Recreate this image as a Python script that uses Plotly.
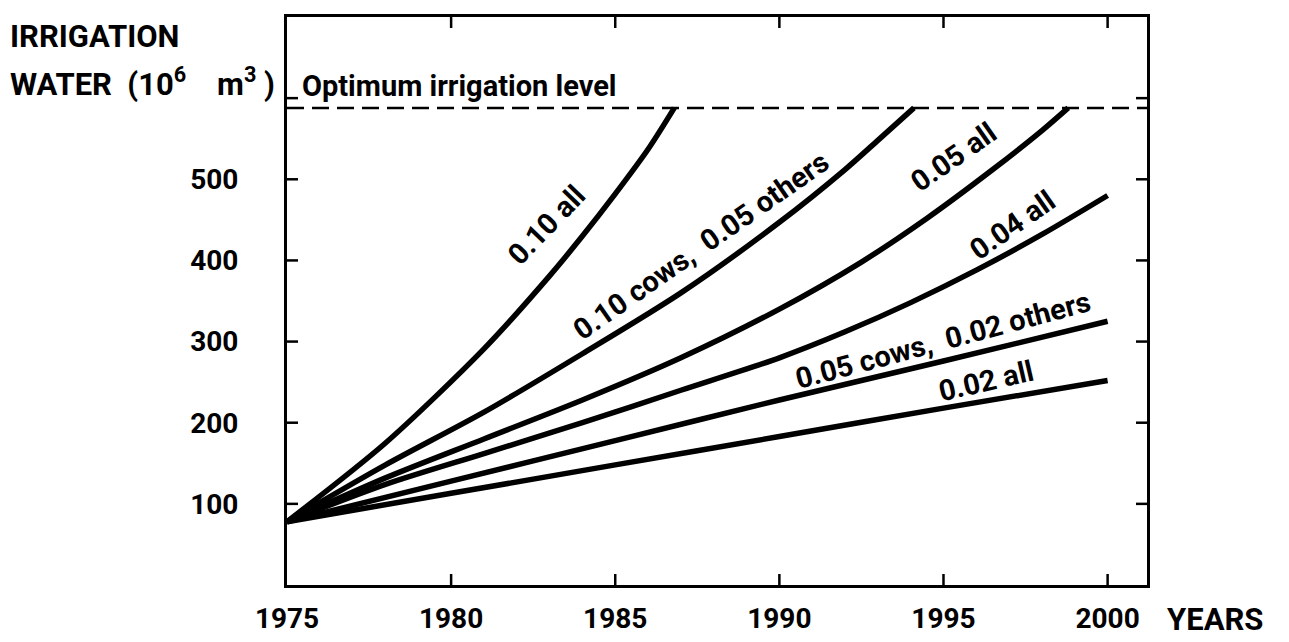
import plotly.graph_objects as go

# Axis ticks
year_ticks = [1975, 1980, 1985, 1990, 1995, 2000]
year_tick_text = ["1975", "1980", "1985", "1990", "1995", "2000"]
water_ticks = [100, 200, 300, 400, 500, 600]
water_tick_text = ["100", "200", "300", "400", "500", ""]

# Optimum irrigation level (10^6 m^3)
optimum_level = 588

# Irrigation water demand per growth scenario
years_010_all = [1975, 1978, 1981, 1983, 1984, 1985, 1986, 1986.8]
water_010_all = [78, 175, 291, 381, 430, 482, 537, 588]

years_010_cows = [1975, 1978, 1981, 1984, 1987, 1990, 1992, 1993, 1994.1]
water_010_cows = [78, 148, 213, 285, 360, 447, 512, 548, 588]

years_005_all = [1975, 1978, 1981, 1984, 1987, 1990, 1992.5, 1994.5, 1996.5, 1998, 1998.8]
water_005_all = [78, 132, 180, 228, 280, 340, 398, 452, 512, 560, 588]

years_004_all = [1975, 1978, 1981, 1984, 1987, 1990, 1992, 1994, 1996, 1998, 2000]
water_004_all = [78, 124, 162, 200, 240, 280, 312, 348, 388, 432, 480]

years_005_cows = [1975, 1980, 1985, 1990, 1995, 2000]
water_005_cows = [78, 128, 178, 228, 276, 325]

years_002_all = [1975, 1980, 1985, 1990, 1995, 2000]
water_002_all = [78, 113, 148, 183, 218, 252]

series = [
    (years_010_all, water_010_all),
    (years_010_cows, water_010_cows),
    (years_005_all, water_005_all),
    (years_004_all, water_004_all),
    (years_005_cows, water_005_cows),
    (years_002_all, water_002_all),
]

# Curve labels: text, position (year, water), angle
curve_labels = [
    ("0.10 all", 1982.9, 444, -46),
    ("0.10 cows,  0.05 others", 1987.6, 418, -35),
    ("0.05 all", 1995.3, 528, -35),
    ("0.04 all", 1997.1, 444, -35),
    ("0.05 cows,  0.02 others", 1995.0, 302, -15),
    ("0.02 all", 1996.3, 251, -13),
]

X_MIN, X_MAX = 1975, 2001.2
Y_MIN, Y_MAX = 0, 700

FONT = "Roboto, Liberation Sans, sans-serif"
INK = "#000000"

fig = go.Figure()

for xs, ys in series:
    fig.add_trace(go.Scatter(
        x=xs, y=ys, mode="lines",
        line=dict(color=INK, width=5.5, shape="spline", smoothing=0.8),
        hoverinfo="skip", showlegend=False,
    ))

# Dashed optimum level across the whole frame
fig.add_shape(type="line", xref="x domain", yref="y",
              x0=0, x1=1, y0=optimum_level, y1=optimum_level,
              line=dict(color=INK, width=2.5, dash="17px,8px"))

# Cross ticks on all four sides of the frame
for xv in year_ticks[1:]:
    for anchor in (Y_MIN, Y_MAX):
        fig.add_shape(type="line", xref="x", yref="y",
                      ysizemode="pixel", yanchor=anchor,
                      x0=xv, x1=xv, y0=-11, y1=11,
                      line=dict(color=INK, width=2.5))
for yv in water_ticks:
    for anchor in (X_MIN, X_MAX):
        fig.add_shape(type="line", xref="x", yref="y",
                      xsizemode="pixel", xanchor=anchor,
                      x0=-11, x1=11, y0=yv, y1=yv,
                      line=dict(color=INK, width=2.5))

curve_font = dict(family=FONT, size=29, color=INK, weight="bold")
for text, xv, yv, ang in curve_labels:
    fig.add_annotation(x=xv, y=yv, xref="x", yref="y", text=text,
                       textangle=ang, showarrow=False, font=curve_font)

title_font = dict(family=FONT, size=31, color=INK, weight="bold")
level_font = dict(family=FONT, size=29, color=INK, weight="bold")
tick_font = dict(family=FONT, size=28, color=INK, weight="bold")

fig.add_annotation(x=-0.3244, y=0.965, xref="paper", yref="paper",
                   xanchor="left", yanchor="middle", showarrow=False,
                   text="IRRIGATION", font=title_font)
fig.add_annotation(x=-0.3244, y=0.885, xref="paper", yref="paper",
                   xanchor="left", yanchor="middle", showarrow=False,
                   text="WATER  (10<sup>6</sup>    m<sup>3</sup> )", font=title_font)
fig.add_annotation(x=0.015, y=0.878, xref="paper", yref="paper",
                   xanchor="left", yanchor="middle", showarrow=False,
                   text="Optimum irrigation level", font=level_font)
fig.add_annotation(x=1.021, y=-0.0616, xref="paper", yref="paper",
                   xanchor="left", yanchor="middle", showarrow=False,
                   text="YEARS", font=title_font)

fig.update_xaxes(
    range=[X_MIN, X_MAX], tickvals=year_ticks, ticktext=year_tick_text,
    ticks="", showgrid=False, zeroline=False, automargin=False,
    showline=True, linecolor=INK, linewidth=3, mirror=True,
    ticklabelstandoff=6, tickfont=tick_font,
)
fig.update_yaxes(
    range=[Y_MIN, Y_MAX], tickvals=water_ticks, ticktext=water_tick_text,
    ticks="", showgrid=False, zeroline=False, automargin=False,
    showline=True, linecolor=INK, linewidth=3, mirror=True,
    ticklabelstandoff=40, tickfont=tick_font,
)

fig.update_layout(
    width=1289, height=642,
    margin=dict(l=287, r=142, t=17, b=57),
    paper_bgcolor="white", plot_bgcolor="white",
    font=dict(family=FONT, color=INK),
    showlegend=False,
)

fig.write_html("out.html")
